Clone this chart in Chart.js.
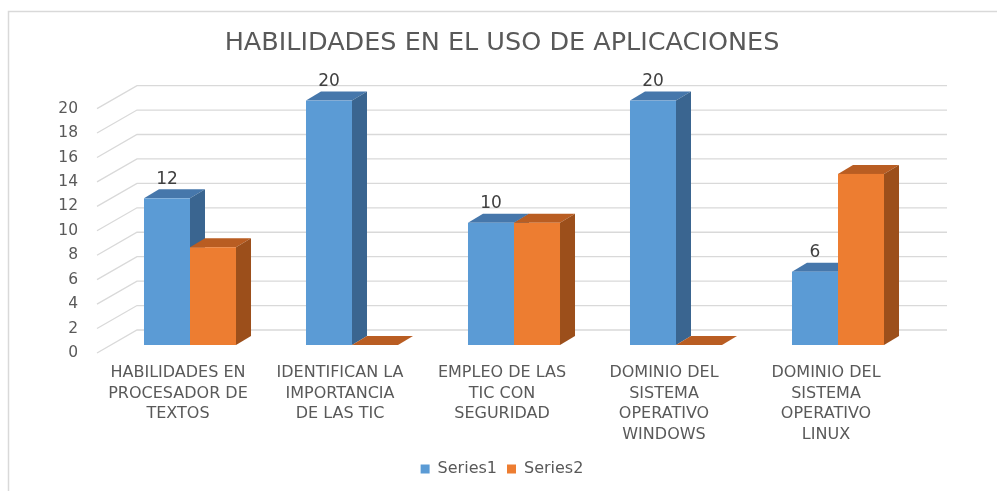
<!DOCTYPE html>
<html>
<head>
<meta charset="utf-8">
<script src="https://cdn.jsdelivr.net/npm/chart.js@4/dist/chart.umd.min.js"></script>
<style>
html,body{margin:0;padding:0;background:#fff;}
#c{display:block;}
</style>
</head>
<body>
<canvas id="c" width="997" height="491"></canvas>
<script>
const titleText = 'HABILIDADES EN EL USO DE APLICACIONES';
const categories = [
  ['HABILIDADES EN', 'PROCESADOR DE', 'TEXTOS'],
  ['IDENTIFICAN LA', 'IMPORTANCIA', 'DE LAS TIC'],
  ['EMPLEO DE LAS', 'TIC CON', 'SEGURIDAD'],
  ['DOMINIO DEL', 'SISTEMA', 'OPERATIVO', 'WINDOWS'],
  ['DOMINIO DEL', 'SISTEMA', 'OPERATIVO', 'LINUX']
];
const seriesNames = ['Series1', 'Series2'];
const series1 = [12, 20, 10, 20, 6];
const series2 = [8, 0, 10, 0, 14];
const yMin = 0, yMax = 20, yStep = 2;

const FONT = "'DejaVu Sans', sans-serif";
const faces = [
  {front: '#5b9bd5', top: '#4677ab', side: '#3a6590'},
  {front: '#ed7d31', top: '#b95d22', side: '#9c4f1b'}
];
// 3D offsets
const DX = 12, DY = -8;     // bar plane shift
const DDX = 15, DDY = -9;   // bar depth
const BX = 40, BY = -23;    // back wall shift

const threeD = {
  id: 'threeD',
  beforeDraw(chart) {
    const ctx = chart.ctx;
    ctx.save();
    ctx.fillStyle = '#ffffff';
    ctx.fillRect(0, 0, chart.width, chart.height);
    ctx.strokeStyle = '#d9d9d9';
    ctx.lineWidth = 1.5;
    ctx.strokeRect(8.5, 11.5, 1100, 600);
    ctx.restore();
  },
  beforeDatasetsDraw(chart) {
    const ctx = chart.ctx;
    const a = chart.chartArea;
    const ys = chart.scales.y;
    ctx.save();
    // gridlines (floor diagonals + back wall)
    ctx.strokeStyle = '#d9d9d9';
    ctx.lineWidth = 1.3;
    ys.ticks.forEach(t => {
      const py = ys.getPixelForValue(t.value);
      ctx.beginPath();
      ctx.moveTo(a.left, py);
      ctx.lineTo(a.left + BX, py + BY);
      ctx.lineTo(a.right + BX, py + BY);
      ctx.stroke();
    });
    // bars
    const n = chart.data.labels.length;
    for (let j = 0; j < n; j++) {
      for (let d = 0; d < chart.data.datasets.length; d++) {
        const meta = chart.getDatasetMeta(d);
        const el = meta.data[j];
        if (!el) continue;
        const p = el.getProps(['x', 'y', 'base', 'width'], true);
        const l = p.x - p.width / 2 + DX, r = p.x + p.width / 2 + DX;
        const top = Math.min(p.y, p.base) + DY, bot = Math.max(p.y, p.base) + DY;
        const f = faces[d];
        // top face
        ctx.fillStyle = f.top;
        ctx.beginPath();
        ctx.moveTo(l, top); ctx.lineTo(r, top);
        ctx.lineTo(r + DDX, top + DDY); ctx.lineTo(l + DDX, top + DDY);
        ctx.closePath(); ctx.fill();
        if (bot - top > 0.5) {
          // side face
          ctx.fillStyle = f.side;
          ctx.beginPath();
          ctx.moveTo(r, top); ctx.lineTo(r + DDX, top + DDY);
          ctx.lineTo(r + DDX, bot + DDY); ctx.lineTo(r, bot);
          ctx.closePath(); ctx.fill();
          // front face
          ctx.fillStyle = f.front;
          ctx.fillRect(l, top, r - l, bot - top);
        }
      }
    }
    // value labels for Series1
    const m0 = chart.getDatasetMeta(0);
    ctx.fillStyle = '#404040';
    ctx.font = '17px ' + FONT;
    ctx.textAlign = 'center';
    ctx.textBaseline = 'middle';
    m0.data.forEach((el, i) => {
      const p = el.getProps(['x', 'y'], true);
      ctx.fillText(String(chart.data.datasets[0].data[i]), p.x + DX, p.y + DY - 19);
    });
    ctx.restore();
    return false;
  }
};

new Chart(document.getElementById('c'), {
  type: 'bar',
  data: {
    labels: categories,
    datasets: [
      {label: seriesNames[0], data: series1, backgroundColor: faces[0].front, borderWidth: 0},
      {label: seriesNames[1], data: series2, backgroundColor: faces[1].front, borderWidth: 0}
    ]
  },
  options: {
    responsive: false,
    animation: false,
    devicePixelRatio: 1,
    layout: {padding: {left: 0, right: 90, top: 0, bottom: 4}},
    datasets: {bar: {barPercentage: 1.0, categoryPercentage: 0.568}},
    plugins: {
      title: {
        display: true,
        text: titleText,
        fullSize: false,
        color: '#595959',
        font: {family: FONT, size: 25.5, weight: 'normal', lineHeight: 1.2},
        padding: {top: 28, bottom: 50}
      },
      legend: {
        position: 'bottom',
        fullSize: false,
        labels: {
          color: '#595959',
          font: {family: FONT, size: 16},
          boxWidth: 9,
          boxHeight: 9,
          padding: 10
        }
      },
      tooltip: {enabled: false}
    },
    scales: {
      x: {
        grid: {display: false, drawTicks: false},
        border: {display: false},
        ticks: {
          color: '#595959',
          font: {family: FONT, size: 16, lineHeight: 1.28},
          padding: 10,
          autoSkip: false,
          maxRotation: 0
        },
        afterFit(s) { s.height = 98; }
      },
      y: {
        min: yMin, max: yMax,
        grid: {display: false, drawTicks: false},
        border: {display: false},
        ticks: {
          stepSize: yStep,
          color: '#595959',
          font: {family: FONT, size: 15.5},
          padding: 19
        },
        afterFit(s) { s.width = 97; }
      }
    }
  },
  plugins: [threeD]
});
</script>
</body>
</html>
